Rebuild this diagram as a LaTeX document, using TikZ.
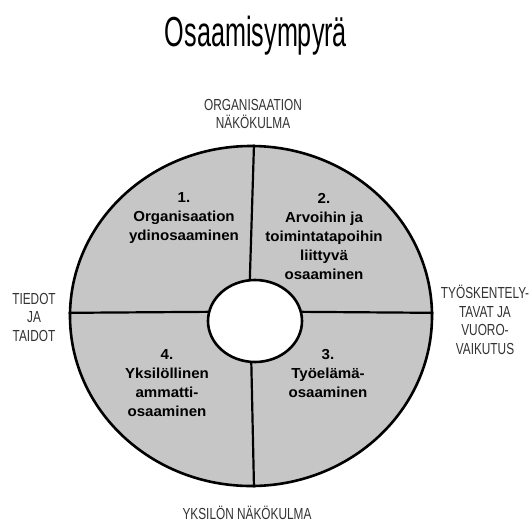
\documentclass[tikz,border=0pt]{standalone}
\usepackage{fontspec}
\setmainfont{Liberation Sans}
\newfontfamily\titlefont[FakeStretch=0.6]{Liberation Sans}
\newfontfamily\capsfont[FakeStretch=0.74]{Liberation Sans}
\newfontfamily\segfont[FakeStretch=1.04]{Liberation Sans}
\usetikzlibrary{shapes.geometric}
\definecolor{Ring}{HTML}{C6C6C6}
\definecolor{Label}{HTML}{333333}
\tikzset{ringline/.style={draw=black,line width=2.6pt,inner sep=0pt},
  divider/.style={draw=black,line width=2.2pt},
  segtext/.style={align=center,font=\segfont\fontsize{14.5}{19}\selectfont\bfseries,
    text=black},
  viewtext/.style={align=center,font=\capsfont\fontsize{16}{18.5}\selectfont,
    text=Label}}

\begin{document}
\begin{tikzpicture}[x=1pt,y=-1pt]
  \useasboundingbox (0,0) rectangle (530,525);
  \node[font=\titlefont\fontsize{42}{44}\selectfont] (title) at (256,36) {Osaamisympyrä};
  % ring and hub
  \node[ellipse,ringline,fill=Ring,minimum width=362pt,minimum height=340pt] (ring) at (251,316) {};
  \node[ellipse,ringline,fill=white,minimum width=94pt,minimum height=82pt] (hub) at (255,321) {};
  \draw[divider] (ring.89) -- (hub.97);
  \draw[divider] (hub.265) -- (ring.271);
  \draw[divider] (ring.179) -- (hub.169);
  \draw[divider] (hub.11) -- (ring.1);
  % segments
  \node[segtext] (s1) at (184,218) {1.\\Organisaation\\ydinosaaminen};
  \node[segtext] (s2) at (324,237) {2.\\Arvoihin ja\\toimintatapoihin\\liittyvä\\osaaminen};
  \node[segtext] (s3) at (328,374) {3.\\Työelämä-\\osaaminen};
  \node[segtext] (s4) at (167,383) {4.\\Yksilöllinen\\ammatti-\\osaaminen};
  % viewpoints
  \node[viewtext] (top) at (253,114) {ORGANISAATION\\NÄKÖKULMA};
  \node[viewtext] (left) at (34,317) {TIEDOT\\JA\\TAIDOT};
  \node[viewtext] (right) at (485,320) {TYÖSKENTELY-\\TAVAT JA\\VUORO-\\VAIKUTUS};
  \node[viewtext] (bottom) at (247,513) {YKSILÖN NÄKÖKULMA};
\end{tikzpicture}
\end{document}
